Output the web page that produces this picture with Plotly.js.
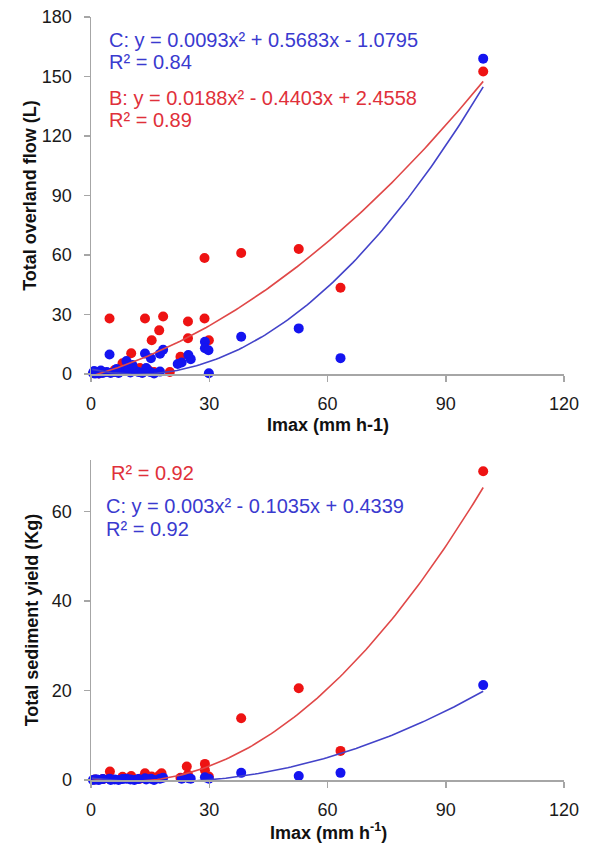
<!DOCTYPE html>
<html>
<head>
<meta charset="utf-8">
<script src="https://cdn.plot.ly/plotly-3.0.1.min.js"></script>
<style>html,body{margin:0;padding:0;background:#fff}#chart{width:590px;height:843px}</style>
</head>
<body>
<div id="chart"></div>
<script>
// ---- Top chart: Total overland flow (L) ----
var flowBx = [99.5, 63.3, 52.7, 38.1, 28.8, 28.8, 29.9, 24.6, 24.6, 22.7, 18.3, 17.3, 15.4, 13.7, 4.7, 10.2, 8.0, 12.4, 14.5, 9.0, 6.0, 3.0, 1.0, 2.0, 16.0, 20.0, 11.0];
var flowBy = [152.5, 43.5, 63.0, 61.0, 58.5, 28.0, 17.0, 26.5, 18.0, 8.7, 29.0, 22.0, 17.0, 28.0, 28.0, 10.5, 5.4, 3.0, 2.0, 1.5, 2.0, 1.0, 0.5, 0.3, 1.0, 1.0, 1.5];
var flowCx = [99.5, 63.3, 52.7, 38.1, 28.9, 28.9, 29.8, 29.9, 24.7, 25.3, 23.0, 22.0, 18.3, 17.5, 15.2, 13.7, 9.0, 4.7, 17.5, 15.0, 12.0, 10.0, 8.0, 7.0, 6.0, 5.0, 4.0, 3.0, 2.0, 1.5, 1.0, 0.5, 0.8, 2.5, 11.0, 13.0, 16.0, 14.0, 9.5, 10.5, 6.5];
var flowCy = [159.0, 8.0, 23.0, 18.8, 16.3, 13.0, 12.0, 0.4, 9.6, 7.5, 5.8, 5.0, 12.2, 10.2, 7.9, 10.3, 6.5, 9.8, 1.2, 1.0, 1.0, 0.8, 1.5, 0.5, 1.0, 0.5, 1.0, 0.5, 0.3, 1.0, 0.2, 0.5, 1.5, 1.8, 2.0, 0.5, 0.3, 3.0, 3.0, 4.5, 2.5];
// trendline coefficients [a, b, c] for y = a x^2 + b x + c, as drawn
var flowRedFit = [0.0093, 0.5683, -1.0795];
var flowBlueFit = [0.0188, -0.4403, 2.4558];
var flowFitRange = [0.3, 99.5];

// ---- Bottom chart: Total sediment yield (Kg) ----
var sedBx = [99.5, 52.7, 38.1, 63.3, 28.9, 28.9, 24.3, 24.6, 4.8, 13.7, 17.9, 17.3, 15.4, 10.2, 8.0, 22.7, 29.9, 12.4, 3.0, 1.0];
var sedBy = [69.0, 20.5, 13.8, 6.5, 3.6, 2.2, 3.0, 1.2, 1.9, 1.5, 1.5, 1.0, 0.8, 0.9, 0.7, 0.5, 0.8, 0.3, 0.2, 0.1];
var sedCx = [99.5, 63.3, 52.7, 38.1, 28.9, 29.9, 24.7, 25.3, 23.0, 18.3, 17.5, 15.2, 13.7, 9.0, 4.7, 1.0, 2.0, 3.0, 5.0, 6.0, 7.0, 8.0, 10.0, 11.0, 12.0, 14.0, 16.0, 0.5, 1.5];
var sedCy = [21.2, 1.6, 0.9, 1.6, 0.6, 0.3, 0.4, 0.3, 0.3, 0.5, 0.3, 0.3, 0.4, 0.3, 0.3, 0.1, 0.0, 0.2, 0.0, 0.1, 0.0, 0.2, 0.1, 0.0, 0.2, 0.1, 0.0, 0.0, 0.1];
var sedRedFit = [0.0081, -0.153, 0.39];
var sedBlueFit = [0.003, -0.1035, 0.4339];
var sedFitRange = [0.3, 99.5];

var xTicks = [0, 30, 60, 90, 120];
var flowTicks = [0, 30, 60, 90, 120, 150, 180];
var sedTicks = [0, 20, 40, 60];

var RED = '#ee1313', BLUE = '#1414f0';
var RED_LINE = '#e04848', BLUE_LINE = '#4343c9';
var RED_TXT = '#e0303a', BLUE_TXT = '#3a3acf';

function curve(coef, rng) {
  var xs = [], ys = [];
  var n = 120;
  for (var i = 0; i <= n; i++) {
    var x = rng[0] + (rng[1] - rng[0]) * i / n;
    xs.push(x);
    ys.push(coef[0] * x * x + coef[1] * x + coef[2]);
  }
  return {x: xs, y: ys};
}

var W = 590, H = 843;
function px(x) { return x / W; }
function py(y) { return 1 - y / H; }

var fr = curve(flowRedFit, flowFitRange), fb = curve(flowBlueFit, flowFitRange);
var sr = curve(sedRedFit, sedFitRange), sb = curve(sedBlueFit, sedFitRange);

var mk = function (c) { return {color: c, size: 10, line: {width: 0}}; };

var traces = [
  {x: flowBx, y: flowBy, type: 'scatter', mode: 'markers', marker: mk(RED), xaxis: 'x', yaxis: 'y', cliponaxis: false},
  {x: flowCx, y: flowCy, type: 'scatter', mode: 'markers', marker: mk(BLUE), xaxis: 'x', yaxis: 'y', cliponaxis: false},
  {x: fr.x, y: fr.y, type: 'scatter', mode: 'lines', line: {color: RED_LINE, width: 1.6}, xaxis: 'x', yaxis: 'y'},
  {x: fb.x, y: fb.y, type: 'scatter', mode: 'lines', line: {color: BLUE_LINE, width: 1.6}, xaxis: 'x', yaxis: 'y'},
  {x: sedBx, y: sedBy, type: 'scatter', mode: 'markers', marker: mk(RED), xaxis: 'x2', yaxis: 'y2', cliponaxis: false},
  {x: sedCx, y: sedCy, type: 'scatter', mode: 'markers', marker: mk(BLUE), xaxis: 'x2', yaxis: 'y2', cliponaxis: false},
  {x: sr.x, y: sr.y, type: 'scatter', mode: 'lines', line: {color: RED_LINE, width: 1.6}, xaxis: 'x2', yaxis: 'y2'},
  {x: sb.x, y: sb.y, type: 'scatter', mode: 'lines', line: {color: BLUE_LINE, width: 1.6}, xaxis: 'x2', yaxis: 'y2'}
];

var FONT = 'Liberation Sans, Arial, sans-serif';
var tickFont = {family: FONT, size: 18, color: '#1a1a1a'};
var titleFont = {family: FONT, size: 18, color: '#111'};

function xaxisDef(anchor) {
  return {
    domain: [px(91), px(564)], range: [0, 120], anchor: anchor,
    tickvals: xTicks, ticktext: xTicks.map(String),
    showgrid: false, zeroline: false, showline: true, linecolor: '#a6a6a6', linewidth: 1.5,
    ticks: 'outside', ticklen: 6, tickcolor: '#a6a6a6', tickwidth: 1.5,
    tickfont: tickFont, ticklabelstandoff: 7
  };
}

var layout = {
  width: W, height: H,
  margin: {l: 0, r: 0, t: 0, b: 0},
  paper_bgcolor: '#fff', plot_bgcolor: '#fff',
  showlegend: false,
  xaxis: xaxisDef('y'),
  yaxis: {
    domain: [py(374), py(17)], range: [0, 180], anchor: 'x',
    tickvals: flowTicks, ticktext: flowTicks.map(String),
    showgrid: false, zeroline: false, showline: true, linecolor: '#a6a6a6', linewidth: 1.5,
    ticks: 'outside', ticklen: 6, tickcolor: '#a6a6a6', tickwidth: 1.5,
    tickfont: tickFont, ticklabelstandoff: 8,
    title: {text: '<b>Total overland flow (L)</b>', font: titleFont, standoff: 0}
  },
  xaxis2: xaxisDef('y2'),
  yaxis2: {
    domain: [py(780), py(460)], range: [0, 71.5], anchor: 'x2',
    tickvals: sedTicks, ticktext: sedTicks.map(String),
    showgrid: false, zeroline: false, showline: true, linecolor: '#a6a6a6', linewidth: 1.5,
    ticks: 'outside', ticklen: 6, tickcolor: '#a6a6a6', tickwidth: 1.5,
    tickfont: tickFont, ticklabelstandoff: 8,
    title: {text: '<b>Total sediment yield (Kg)</b>', font: titleFont, standoff: 8}
  },
  annotations: []
};

// x-axis titles under the tick labels
layout.annotations.push({
  text: '<b>Imax (mm h-1)</b>', x: px(328), y: py(425), xref: 'paper', yref: 'paper',
  xanchor: 'center', yanchor: 'middle', showarrow: false, font: titleFont
});
layout.annotations.push({
  text: '<b>Imax (mm h<sup>-1</sup>)</b>', x: px(328), y: py(831), xref: 'paper', yref: 'paper',
  xanchor: 'center', yanchor: 'middle', showarrow: false, font: titleFont
});

var annFont = function (c) { return {family: FONT, size: 20, color: c}; };
var annTexts = [
  ['C: y = 0.0093x² + 0.5683x - 1.0795', 107, 40, BLUE_TXT],
  ['R² = 0.84', 107, 62, BLUE_TXT],
  ['B: y = 0.0188x² - 0.4403x + 2.4558', 107, 98, RED_TXT],
  ['R² = 0.89', 107, 120, RED_TXT],
  ['R² = 0.92', 109, 473, RED_TXT],
  ['C: y = 0.003x² - 0.1035x + 0.4339', 104, 506, BLUE_TXT],
  ['R² = 0.92', 104, 529, BLUE_TXT]
];
annTexts.forEach(function (a) {
  layout.annotations.push({
    text: a[0], x: px(a[1]), y: py(a[2]), xref: 'paper', yref: 'paper',
    xanchor: 'left', yanchor: 'middle', showarrow: false, font: annFont(a[3])
  });
});

Plotly.newPlot('chart', traces, layout, {displayModeBar: false, staticPlot: true});
</script>
</body>
</html>
